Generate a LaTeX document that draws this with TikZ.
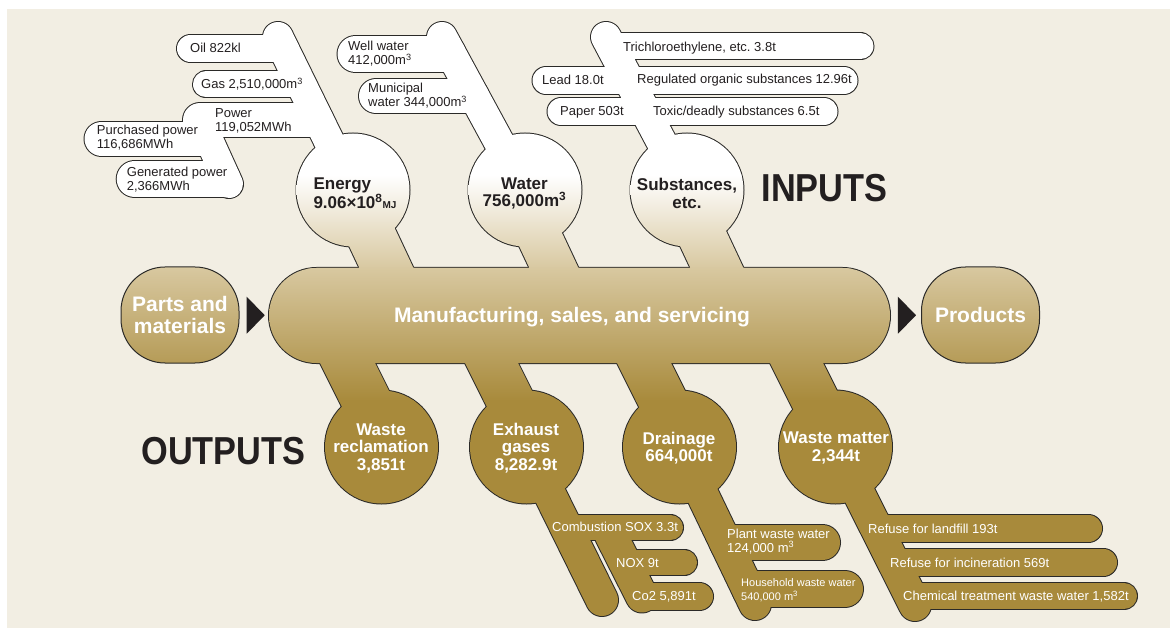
\documentclass[tikz,border=0pt]{standalone}
\usepackage{fontspec}
\setmainfont{Liberation Sans}
\usetikzlibrary{positioning, shapes.geometric}

\definecolor{paper}{HTML}{F2EEE3}
\definecolor{ink}{HTML}{231F20}
\definecolor{edgec}{HTML}{2B2A28}
\definecolor{tanlt}{HTML}{D8C8A0}
\definecolor{gold}{HTML}{A88A3B}

\tikzset{
  % one vertical gradient shared by every shape of the flow
  gradfill/.style={path picture={
      \fill[white] (0,0) rectangle (1170,176);
      \shade[top color=white, bottom color=tanlt] (0,175) rectangle (1170,269);
      \shade[top color=tanlt, bottom color=gold] (0,268) rectangle (1170,401);
      \fill[gold] (0,400) rectangle (1170,628);
  }},
  rim/.style={draw=edgec, line width=2},
  strip/.style={line cap=round},
  arrowtri/.style={isosceles triangle, isosceles triangle stretches, minimum width=37, minimum height=18, inner sep=0, fill=ink},
  endbox/.style={rectangle, rounded corners=44, minimum width=118, minimum height=96, inner sep=0, draw=edgec, line width=1,
    top color=tanlt, bottom color=gold!72!tanlt,
    text=white, align=center, font=\bfseries\fontsize{21}{22}\selectfont},
  lbl/.style={anchor=west, align=left, inner sep=0, font=\fontsize{13}{13.8}\selectfont, text=ink},
  lblw/.style={lbl, text=white},
  intxt/.style={align=center, inner sep=0, font=\bfseries\fontsize{17}{17.5}\selectfont, text=ink},
  outtxt/.style={intxt, text=white},
  bigtxt/.style={inner sep=0, font=\bfseries\fontsize{39}{39}\selectfont, text=ink}
}

% stalks and label strips: from / to / width
\def\instrips{energytop/energy/30, watertop/water/30, substtop/subst/30,
  oilL/oilR/27, gasL/gasR/26, powerL/powerR/34, powerL/powerend/28,
  buyL/buyR/34, genL/genR/36, wellL/wellR/36, cityL/cityR/34,
  trichL/trichR/26, leadL/leadR/27, paperL/paperR/27}
\def\outstrips{exhaust/exhaustend/32, noxtop/co2L/32, drain/drainend/32, waste/wasteend/32,
  soxL/soxR/25, noxL/noxR/25, co2L/co2R/27, plantL/plantR/35, homeL/homeR/36,
  fillL/fillR/27, burnL/burnR/27, chemL/chemR/26}

\begin{document}
\begin{tikzpicture}[x=1pt, y=-1pt]
  \useasboundingbox (0,0) rectangle (1170,628);
  \fill[white] (0,0) rectangle (1170,628);
  \fill[paper] (7,9) rectangle (1170,628);

  % bubble centres
  \coordinate (energy) at (353,190);
  \coordinate (water) at (525,190);
  \coordinate (subst) at (687,190);
  \coordinate (reclaim) at (381.5,447);
  \coordinate (exhaust) at (526.5,447);
  \coordinate (drain) at (679.5,447);
  \coordinate (waste) at (835.5,447);
  \coordinate (mfgW) at (269,315.5);
  \coordinate (mfgE) at (890,315.5);

  % input stalks and strips
  \coordinate (energytop) at (278,37);
  \coordinate (watertop) at (442,37);
  \coordinate (substtop) at (606,37);
  \coordinate (oilL) at (190.5,48.5);   \coordinate (oilR) at (283.6,48.5);
  \coordinate (gasL) at (206,84.5);     \coordinate (gasR) at (301,84.5);
  \coordinate (powerL) at (200,120);    \coordinate (powerR) at (316.4,120);
  \coordinate (powerend) at (229,184);
  \coordinate (buyL) at (101.5,138.7);  \coordinate (buyR) at (205,138.7);
  \coordinate (genL) at (134.7,179);    \coordinate (genR) at (222.2,179);
  \coordinate (wellL) at (355.5,54);    \coordinate (wellR) at (447.8,54);
  \coordinate (cityL) at (376,96);      \coordinate (cityR) at (471.7,96);
  \coordinate (trichL) at (611,46.5);   \coordinate (trichR) at (860.5,46.5);
  \coordinate (leadL) at (546,80.5);    \coordinate (leadR) at (844,80.5);
  \coordinate (paperL) at (561,111.5);  \coordinate (paperR) at (824,111.5);

  % output stalks and strips
  \coordinate (exhaustend) at (602,600);
  \coordinate (noxtop) at (610.8,535);
  \coordinate (drainend) at (755,604);
  \coordinate (wasteend) at (915,605);
  \coordinate (soxL) at (566.2,527.5);  \coordinate (soxR) at (670.5,527.5);
  \coordinate (noxL) at (624.7,562.5);  \coordinate (noxR) at (684.5,562.5);
  \coordinate (co2L) at (642,596.5);    \coordinate (co2R) at (699.5,596.5);
  \coordinate (plantL) at (727.1,542.5); \coordinate (plantR) at (822.5,542.5);
  \coordinate (homeL) at (750.1,589);   \coordinate (homeR) at (845,589);
  \coordinate (fillL) at (876.5,528.5); \coordinate (fillR) at (1088.5,528.5);
  \coordinate (burnL) at (893.6,562.5); \coordinate (burnR) at (1103.5,562.5);
  \coordinate (chemL) at (910.4,596);   \coordinate (chemR) at (1124,596);

  % outlines first, twice as wide, the fills cover the inner half
  \draw[rim, rounded corners=47.5] (269,268) rectangle (890,363);
  \foreach \l/\r in {359/413, 529/578, 690/743}
    \draw[rim] (\l-25.9,212) -- (\l+15.5,300) -- (\r+15.5,300) -- (\r-25.9,212) -- cycle;
  \foreach \l/\r in {320/375, 465/518, 617/671, 770/823}
    \draw[rim] (\l-16.5,330) -- (\l+31,425) -- (\r+31,425) -- (\r-16.5,330) -- cycle;
  \foreach \c in {energy, water, subst, reclaim, exhaust, drain, waste}
    \draw[rim] (\c) circle[radius=56.5];
  \foreach \p/\q/\w in \instrips
    \draw[strip, edgec, line width=\w+2] (\p) -- (\q);
  \foreach \p/\q/\w in \outstrips
    \draw[strip, edgec, line width=\w+2] (\p) -- (\q);

  % fills
  \foreach \p/\q/\w in \instrips
    \draw[strip, white, line width=\w] (\p) -- (\q);
  \foreach \p/\q/\w in \outstrips
    \draw[strip, gold, line width=\w] (\p) -- (\q);
  \foreach \l/\r in {359/413, 529/578, 690/743}
    \path[gradfill] (\l-25.9,212) -- (\l+15.5,300) -- (\r+15.5,300) -- (\r-25.9,212) -- cycle;
  \foreach \l/\r in {320/375, 465/518, 617/671, 770/823}
    \path[gradfill] (\l-16.5,330) -- (\l+31,425) -- (\r+31,425) -- (\r-16.5,330) -- cycle;
  \foreach \c in {energy, water, subst, reclaim, exhaust, drain, waste}
    \path[gradfill] (\c) circle[radius=56.5];
  \path[gradfill, rounded corners=47.5] (269,268) rectangle (890,363);

  % in and out of the process
  \node[endbox] (parts) at (180,315) {Parts and\\materials};
  \node[endbox] (products) at (980.5,315) {Products};
  \path (parts.east) -- (mfgW) node[midway, arrowtri] (feedin) {};
  \path (mfgE) -- (products.west) node[midway, arrowtri] (feedout) {};
  \node[outtxt, font=\bfseries\fontsize{21}{22}\selectfont] (mfg) at (572,317) {Manufacturing, sales, and servicing};

  % bubble labels
  \node[intxt, align=left] (energylbl) at (355,193.5) {Energy\\9.06×10\textsuperscript{8}{\fontsize{10}{10}\selectfont MJ}};
  \node[intxt] (waterlbl) at (524.5,193.5) {Water\\756,000m\textsuperscript{3}};
  \node[intxt] (substlbl) at (687,193.5) {Substances,\\etc.};
  \node[outtxt] (reclaimlbl) at (381,448) {Waste\\reclamation\\3,851t};
  \node[outtxt] (exhaustlbl) at (526,448) {Exhaust\\gases\\8,282.9t};
  \node[outtxt] (drainlbl) at (679,448) {Drainage\\664,000t};
  \node[outtxt] (wastelbl) at (836,448) {Waste matter\\2,344t};

  % input strip labels
  \node[lbl] (oil) at (190,48.3) {Oil 822kl};
  \node[lbl] (gas) at (201,84) {Gas 2,510,000m\textsuperscript{3}};
  \node[lbl] (power) at (215,121) {Power\\119,052MWh};
  \node[lbl] (buy) at (96.7,138) {Purchased power\\116,686MWh};
  \node[lbl] (gen) at (126.7,180) {Generated power\\2,366MWh};
  \node[lbl] (well) at (348,53.7) {Well water\\412,000m\textsuperscript{3}};
  \node[lbl] (city) at (368,96) {Municipal\\water 344,000m\textsuperscript{3}};
  \node[lbl] (trich) at (623,48) {Trichloroethylene, etc.\ 3.8t};
  \node[lbl] (lead) at (542,80) {Lead 18.0t};
  \node[lbl] (organic) at (637,80) {Regulated organic substances 12.96t};
  \node[lbl] (paper) at (560,112) {Paper 503t};
  \node[lbl] (toxic) at (653,112) {Toxic/deadly substances 6.5t};

  % output strip labels
  \node[lblw] (sox) at (552,527) {Combustion SOX 3.3t};
  \node[lblw] (nox) at (616,563) {NOX 9t};
  \node[lblw] (co2) at (632,597) {Co2 5,891t};
  \node[lblw] (plant) at (727,541.5) {Plant waste water\\124,000 m\textsuperscript{3}};
  \node[lblw, font=\fontsize{11}{14}\selectfont] (home) at (741,590) {Household waste water\\540,000 m\textsuperscript{3}};
  \node[lblw] (landfill) at (868,529) {Refuse for landfill 193t};
  \node[lblw] (burn) at (890,563) {Refuse for incineration 569t};
  \node[lblw] (chem) at (903,597) {Chemical treatment waste water 1,582t};

  % headings
  \node[bigtxt] (inputs) at (824.5,188.5) {\scalebox{0.88}[1]{INPUTS}};
  \node[bigtxt] (outputs) at (223.5,451.5) {\scalebox{0.88}[1]{OUTPUTS}};
\end{tikzpicture}
\end{document}
